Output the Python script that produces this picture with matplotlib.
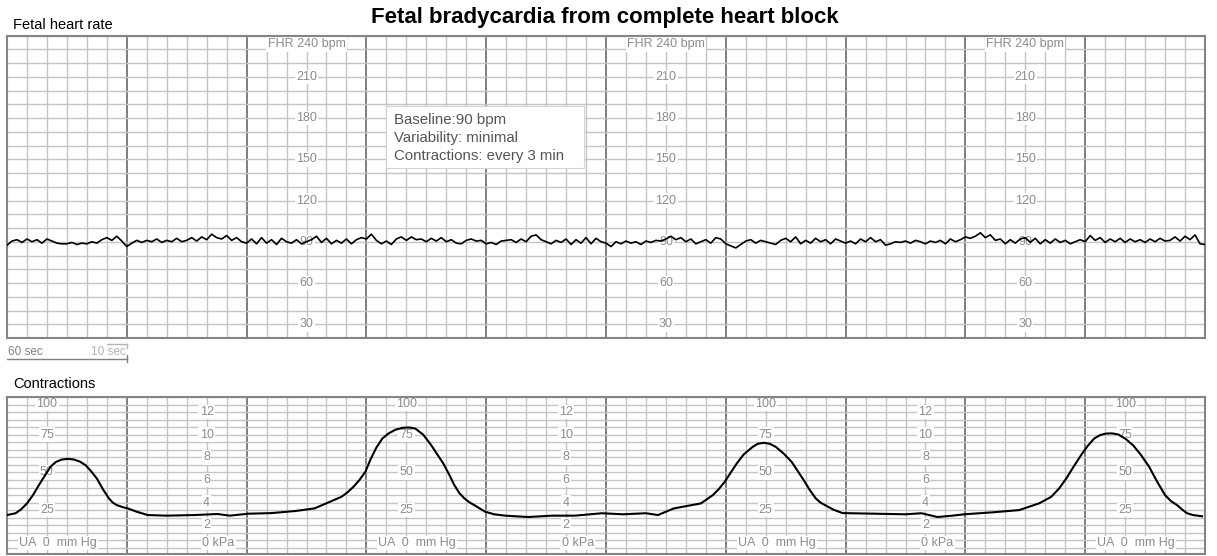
import numpy as np
import matplotlib.pyplot as plt
from matplotlib.lines import Line2D
from matplotlib.patches import Rectangle

plt.rcParams['font.family'] = ['Liberation Sans', 'DejaVu Sans']

# FHR trace in bpm, one reading every 2.5 s
fhr = [87.5, 90.5, 91.5, 89.5, 92, 90, 91.5, 89, 92, 90.5, 89, 88.5,
       88.5, 89.5, 88, 89, 88.5, 90, 89, 91.5, 93, 91, 94, 90.5,
       86.5, 89, 91, 89.5, 91, 90, 92, 89.5, 91, 90, 92.5, 90,
       91, 93, 90.5, 93.5, 91.5, 95.5, 93, 92, 94.5, 91, 93, 90,
       89, 92, 88.5, 93, 89, 91.5, 88, 92.5, 90, 89, 91.5, 88.5,
       90, 91.5, 94, 89.5, 92.5, 88.5, 91, 89, 92, 88.5, 91.5, 93,
       92, 95.5, 91, 88.5, 90.5, 88, 92, 93.5, 91, 93.5, 91.5, 92,
       90, 92.5, 90.5, 93, 90, 91.5, 89, 88.5, 91, 92, 90.5, 91,
       88.5, 89.5, 88, 90.5, 91, 91.5, 89.5, 92, 90, 94, 95, 91.5,
       90, 88.5, 91, 89.5, 92, 88, 91.5, 89, 93, 88.5, 92.5, 90,
       89, 86.5, 90, 88.5, 90.5, 89, 90, 88, 90.5, 89.5, 91, 90.5,
       92, 94, 91.5, 93, 90, 92, 88.5, 90, 91.5, 89, 93, 92,
       88.5, 87, 85.5, 88, 90.5, 91.5, 89, 91, 90, 89, 88, 91,
       92.5, 90, 93.5, 88.5, 91, 89, 92.5, 90, 91.5, 88.5, 92, 90.5,
       89, 90.5, 88.5, 92, 90, 93, 90, 91.5, 87.5, 88.5, 90, 89.5,
       90.5, 89, 91, 90, 88.5, 90.5, 89.5, 91, 88.5, 92, 90, 91.5,
       93.5, 92.5, 94, 96.5, 93, 95, 91, 92, 88.5, 91.5, 89, 92,
       93, 89.5, 92.5, 88.5, 91.5, 89, 92, 89.5, 91, 88.5, 90, 91.5,
       90, 94.5, 91, 93, 89.5, 92, 90, 92.5, 89.5, 92, 90, 91.5,
       89.5, 92, 90, 92.5, 90.5, 91, 93.5, 90.5, 94, 91.5, 95, 88.5,
       88]
fhr_dt = 2.5

# uterine activity (time in s, pressure in mm Hg)
ua_t = [0, 4.3, 7, 10, 13, 16, 19, 21.8, 24.5, 27.5, 30.5, 33.5, 36.5, 39.3,
        42, 45, 48, 51, 53, 55, 58, 60.5, 65, 70.5, 80,
        94, 105.5, 111.5, 121, 132.5, 144.5, 154, 160, 167.5, 170.5, 173.5,
        176.5, 179.5, 182, 185, 188, 191, 194.5, 198, 201.5, 204.5, 208.5,
        212.5, 215.5, 218.5, 221.5, 224, 226.5, 229, 231.5, 234, 239.5, 244,
        249.5, 261, 273, 284.5, 298, 308.5, 320, 326, 334, 347.5, 353.5,
        356.5, 359.5, 362.5, 365.5, 369, 373.5, 376, 379, 382, 385, 389, 393,
        396, 399, 402, 405, 407.5, 410.5, 414, 418.5, 434.5, 450,
        458, 466, 473.5, 479.5, 493.5, 507, 517, 523, 527, 530.5, 534.5, 538.5,
        541.5, 544.5, 547.5, 550.5, 553.5, 556.5, 560, 564, 568, 572, 576, 580,
        583, 586, 588.5, 591, 594, 598.5]
ua_mmhg = [21.8, 23, 25.5, 29.5, 35, 41.7, 48, 53.8, 57, 58.6, 59, 58.6, 57.2,
           54.9, 51, 46, 39, 32.9, 30, 28.4, 27, 26.2, 24, 21.8, 21.4,
           21.8, 22.5, 21.4, 22.7, 23.1, 24.5, 26.2, 29.6, 33.9, 36.8, 40.5,
           45, 50.5, 58.5, 66.5, 72.5, 75.8, 78.3, 79.6, 79.8, 79.1, 75,
           68, 62, 56, 48.5, 41.7, 36.5, 32.9, 30.3, 28.4, 24, 22.3,
           21.4, 20.5, 21.4, 21.4, 23, 22.3, 23, 21.8, 26.2, 29.5, 35,
           39, 43.9, 50, 56, 62, 67, 69, 69.7, 69, 67, 62.5, 57,
           51, 45, 38.5, 32.9, 30, 27.8, 25.3, 23.1, 22.7, 22.3,
           23, 20.5, 21.4, 22.3, 23.6, 25.1, 29.6, 33.9, 39.5, 46, 54.5, 62.6,
           68, 72.5, 74.8, 75.8, 75.9, 75.2, 72.5, 68, 61.5, 53.8, 44, 35,
           31, 28.4, 25.5, 23, 21.8, 21]

fhr_ticks = [30, 60, 90, 120, 150, 180, 210]
fhr_cols = [150, 330, 510]
ua_ticks = [25, 50, 75]
ua_cols = [20, 200, 380, 560]
kpa_ticks = [2, 4, 6, 8, 10, 12]
kpa_cols = [100, 280, 460]
notes = "Baseline:90 bpm\nVariability: minimal\nContractions: every 3 min"

W, H = 1217, 556
LBL = '#8c8c8c'


def box(l, t, r, b):
    return [l / W, 1 - b / H, (r - l) / W, (b - t) / H]


def paper(ax, ylo, yhi, ystep, yfirst):
    ax.set_xlim(0, 600)
    ax.set_ylim(ylo, yhi)
    ax.set_xticks(np.arange(0, 601, 60))
    ax.set_xticks(np.arange(0, 601, 10), minor=True)
    ax.set_yticks(np.arange(yfirst, yhi + 1, ystep))
    ax.tick_params(which='both', length=0, labelbottom=False, labelleft=False)
    ax.grid(which='minor', axis='x', color='#c4c4c4', lw=1)
    ax.grid(which='major', axis='y', color='#c4c4c4', lw=1)
    ax.grid(which='major', axis='x', color='#5c5c5c', lw=1.1)
    ax.set_axisbelow(True)
    for s in ax.spines.values():
        s.set_color('#858585')
        s.set_linewidth(1.5)


def lbl(ax, x, y, s, ha='center'):
    ax.text(x, y, s, ha=ha, va='center', color=LBL, fontsize=9, zorder=2,
            bbox=dict(boxstyle='square,pad=0.1', fc='white', ec='none'))


fig = plt.figure(figsize=(W / 100, H / 100), dpi=100)

# ---- fetal heart rate
ax1 = fig.add_axes(box(7, 35.5, 1205, 338))
paper(ax1, 20, 240, 10, 20)
for c in fhr_cols:
    lbl(ax1, c, 233.5, 'FHR 240 bpm')
    for v in fhr_ticks:
        lbl(ax1, c, v, str(v))
t_fhr = np.arange(len(fhr)) * fhr_dt
ax1.plot(t_fhr, fhr, color='black', lw=1.2, zorder=3)

ax1.add_patch(Rectangle((190, 143.6), 99, 45.1, fc='white', ec='#d4d4d4',
                        lw=0.8, zorder=2.5))
ax1.text(194, 165.6, notes, ha='left', va='center', color='#555555',
         fontsize=10.8, linespacing=1.36, zorder=2.6)

# ---- contractions
ax2 = fig.add_axes(box(7, 397, 1205, 554))
paper(ax2, -4, 100, 5, 0)
for c in ua_cols:
    lbl(ax2, c, 95.3, '100')
    for v in ua_ticks:
        lbl(ax2, c, v, str(v))
    lbl(ax2, c - 14, 3.3, 'UA  0  mm Hg', ha='left')
for c in kpa_cols:
    for v in kpa_ticks:
        lbl(ax2, c, v * 7.5, str(v))
    lbl(ax2, c - 2.2, 3.3, '0 kPa', ha='left')
ax2.plot(ua_t, ua_mmhg, color='black', lw=1.5, zorder=3, solid_joinstyle='round')

# ---- titles
fig.text(605 / W, 1 - 17 / H, 'Fetal bradycardia from complete heart block',
         ha='center', va='center', fontsize=16, weight='bold')
fig.text(13 / W, 1 - 25 / H, 'Fetal heart rate', ha='left', va='center', fontsize=10.5)
fig.text(13 / W, 1 - 384 / H, 'Contractions', ha='left', va='center', fontsize=10.5)

# ---- paper speed scale
fig.text(8 / W, 1 - 352 / H, '60 sec', ha='left', va='center', fontsize=8.5, color='#808080')
fig.text(126 / W, 1 - 352 / H, '10 sec', ha='right', va='center', fontsize=8.5, color='#b4b4b4')
for xs, ys, col in [([7, 127], [359, 359], '#808080'),
                    ([127, 127], [355, 362], '#808080'),
                    ([107, 127], [343.5, 343.5], '#b4b4b4'),
                    ([127, 127], [343.5, 347.5], '#b4b4b4')]:
    fig.add_artist(Line2D([x / W for x in xs], [1 - y / H for y in ys],
                          color=col, lw=1))

fig.savefig('out.png', dpi=100)
